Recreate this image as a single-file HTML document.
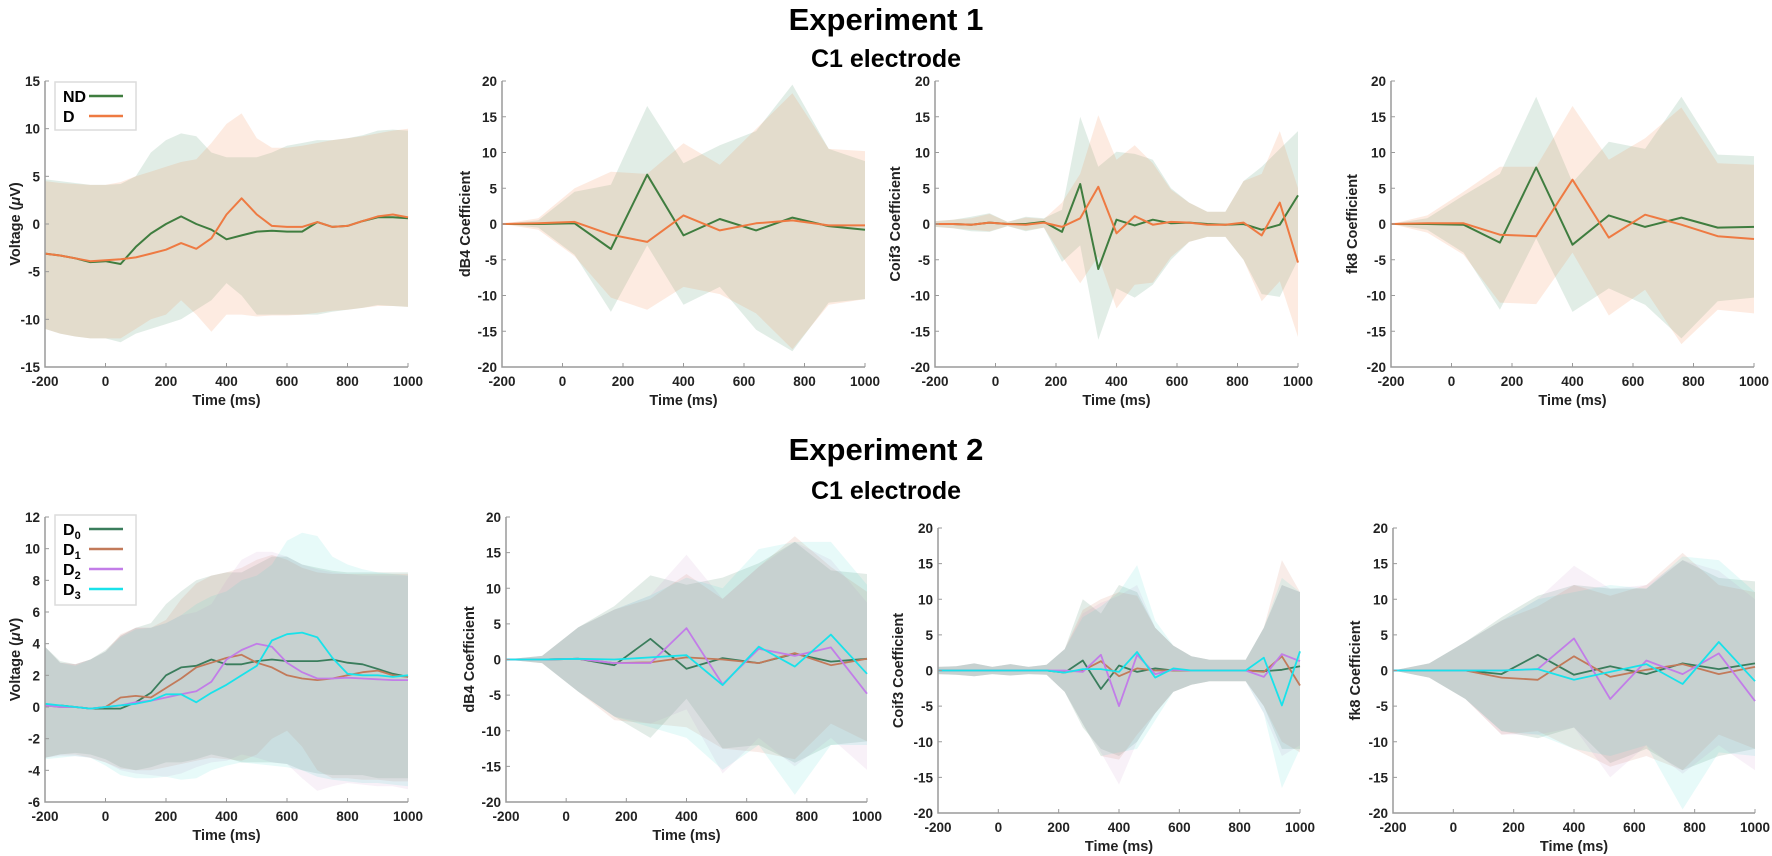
<!DOCTYPE html>
<html><head><meta charset="utf-8">
<style>
html,body{margin:0;padding:0;background:#fff;}
svg{display:block;}
text{font-family:"Liberation Sans",Arial,sans-serif;}
.title{font-family:"Liberation Sans Narrow","Liberation Sans",sans-serif;font-weight:bold;fill:#000;}
</style></head>
<body>
<svg id="fig" width="1772" height="856" viewBox="0 0 1772 856" xmlns="http://www.w3.org/2000/svg">
<text class="title" x="886" y="30" font-size="31" text-anchor="middle">Experiment 1</text>
<text class="title" x="886" y="67" font-size="25" text-anchor="middle">C1 electrode</text>
<text class="title" x="886" y="460" font-size="31" text-anchor="middle">Experiment 2</text>
<text class="title" x="886" y="499" font-size="25" text-anchor="middle">C1 electrode</text>
</svg>
<script>
// ---- time grids ----
const tErp = [-200,-150,-100,-50,0,50,100,150,200,250,300,350,400,450,500,550,600,650,700,750,800,850,900,950,1000];
const tCoef = [-200,-80,40,160,280,400,520,640,760,880,1000];
const tCoif = [-200,-140,-80,-20,40,100,160,220,280,340,400,460,520,580,640,700,760,820,880,940,1000];
const xTicks = [-200,0,200,400,600,800,1000];

// ---- Experiment 1: ERP ----
const e1ErpNDmean = [-3.1,-3.3,-3.6,-4.0,-3.9,-4.2,-2.4,-1.0,0.0,0.8,0.0,-0.6,-1.6,-1.2,-0.8,-0.7,-0.8,-0.8,0.2,-0.3,-0.2,0.3,0.7,0.7,0.6];
const e1ErpDmean  = [-3.1,-3.3,-3.6,-3.9,-3.8,-3.7,-3.5,-3.1,-2.7,-2.0,-2.6,-1.5,1.0,2.7,1.0,-0.2,-0.3,-0.3,0.2,-0.3,-0.2,0.3,0.8,1.0,0.7];
const e1ErpNDup = [4.7,4.5,4.3,4.1,4.1,4.2,5.0,7.5,8.8,9.5,9.2,7.5,7.0,7.0,7.0,7.5,8.2,8.5,8.8,8.8,9.0,9.3,9.8,9.9,9.8];
const e1ErpNDlo = [-11,-11.5,-11.8,-12,-12,-12.4,-11.5,-11,-10.5,-10,-9,-8,-6.2,-7.5,-9.5,-9.5,-9.5,-9.5,-9.5,-9.2,-9,-8.8,-8.5,-8.6,-8.7];
const e1ErpDup = [4.5,4.3,4.2,4.1,4.1,4.4,5.0,5.5,6.0,6.5,6.8,8.5,10.5,11.6,9.0,8.0,8.0,8.2,8.5,8.8,9.0,9.2,9.5,9.8,10];
const e1ErpDlo = [-11,-11.5,-11.8,-12,-12,-12,-11,-10,-9.5,-8,-9.5,-11.3,-9.5,-9.5,-9.7,-9.6,-9.6,-9.5,-9.3,-9.1,-9,-8.8,-8.6,-8.6,-8.7];
// ---- Experiment 1: dB4 ----
const e1DbND = [0,0,0.1,-3.5,6.9,-1.6,0.7,-0.9,0.9,-0.3,-0.8];
const e1DbD  = [0,0.1,0.3,-1.5,-2.5,1.2,-0.9,0.1,0.5,-0.2,-0.2];
const e1DbNDup = [0,0.5,4.5,5.5,16.5,8.5,11.0,13.0,19.5,10.5,8.8];
const e1DbNDlo = [0,-0.5,-4.3,-12.3,-3.0,-11.3,-8.8,-14.8,-17.8,-11.0,-10.5];
const e1DbDup = [0,0.8,5.0,7.3,7.0,11.3,8.3,13.3,18.3,10.5,10.2];
const e1DbDlo = [0,-0.8,-4.5,-10.3,-12.0,-8.8,-9.8,-12.5,-17.5,-11.3,-10.5];
// ---- Experiment 1: Coif3 ----
const e1CoND = [0,0,-0.1,0.2,0,0,0.3,-1.1,5.6,-6.3,0.6,-0.2,0.6,0.1,0.2,0,-0.1,0,-0.8,-0.1,4.0];
const e1CoD  = [0,0,-0.1,0.2,0,-0.1,0.2,-0.4,0.8,5.2,-1.3,1.1,-0.1,0.3,0.2,-0.1,-0.1,0.2,-1.6,3.0,-5.4];
const e1CoNDup = [0.4,0.6,1.0,1.5,0.3,1.0,0.8,2.0,15.0,8.0,10.1,9.8,9.0,5.0,3.0,1.7,1.7,6.0,8.0,10.5,13.0];
const e1CoNDlo = [-0.4,-0.6,-1.0,-1.1,-0.3,-1.0,-0.5,-5.3,-3.0,-16.2,-9.0,-10.3,-8.5,-5.0,-2.5,-1.8,-1.8,-5.0,-9.8,-10.2,-5.0];
const e1CoDup = [0.4,0.6,0.8,1.4,0.3,0.9,0.7,3.0,7.0,15.2,9.0,11.0,8.5,4.8,3.0,1.7,1.7,6.0,7.0,13.0,5.0];
const e1CoDlo = [-0.4,-0.6,-0.8,-1.0,-0.3,-0.9,-0.5,-4.5,-8.3,-4.5,-11.8,-8.5,-8.2,-4.6,-2.5,-1.8,-1.8,-5.0,-10.8,-8.0,-15.8];
// ---- Experiment 1: fk8 ----
const e1FkND = [0,0,-0.1,-2.6,7.9,-2.9,1.2,-0.4,0.9,-0.5,-0.4];
const e1FkD  = [0,0.1,0.1,-1.5,-1.7,6.2,-1.9,1.3,-0.1,-1.7,-2.1];
const e1FkNDup = [0,0.8,4.0,7.0,17.8,5.8,11.5,10.5,17.8,9.7,9.5];
const e1FkNDlo = [0,-0.8,-4.0,-12.0,-2.0,-12.3,-9.0,-11.3,-16.0,-10.8,-10.3];
const e1FkDup = [0,1.2,4.5,8.0,8.0,16.5,9.0,12.0,16.3,8.5,8.3];
const e1FkDlo = [0,-1.2,-4.3,-11.0,-11.2,-4.0,-12.8,-9.2,-16.8,-12.0,-12.5];

// ---- Experiment 2: ERP ----
const e2ErpD0 = [0.1,0.1,0,-0.1,-0.1,-0.1,0.3,0.9,2.0,2.5,2.6,3.0,2.7,2.7,2.9,3.0,2.9,2.9,2.9,3.0,2.8,2.7,2.4,2.1,1.9];
const e2ErpD1 = [0.1,0,0,-0.1,0,0.6,0.7,0.6,1.2,1.8,2.5,2.8,3.1,3.3,2.8,2.5,2.0,1.8,1.7,1.8,2.0,2.2,2.3,2.0,1.9];
const e2ErpD2 = [0.1,0,0,-0.1,0,0.1,0.3,0.4,0.6,0.8,1.0,1.6,3.0,3.6,4.0,3.8,2.8,2.2,1.8,1.8,1.85,1.8,1.75,1.7,1.7];
const e2ErpD3 = [0.2,0.1,0,-0.1,0,0.1,0.2,0.4,0.8,0.8,0.3,0.9,1.4,2.0,2.6,4.2,4.6,4.7,4.4,3.1,2.1,2.0,2.0,1.9,2.0];
const e2ErpD0up = [3.8,2.9,2.7,3.0,3.6,4.5,5.0,5.3,6.5,7.3,8.0,8.3,8.5,8.5,9.0,9.5,9.5,9.0,8.8,8.6,8.5,8.5,8.5,8.5,8.5];
const e2ErpD1up = [3.8,2.8,2.7,3.0,3.5,4.6,5.0,5.0,5.5,6.8,7.8,8.3,8.5,8.8,9.3,9.6,9.3,8.8,8.5,8.4,8.4,8.4,8.4,8.4,8.4];
const e2ErpD2up = [3.8,2.8,2.7,3.0,3.5,4.5,5.0,5.0,5.3,5.8,6.0,6.5,8.0,9.3,9.8,9.8,9.5,9.0,8.7,8.5,8.4,8.3,8.3,8.3,8.3];
const e2ErpD3up = [3.8,2.8,2.6,3.0,3.5,4.4,4.9,5.0,5.3,5.8,6.5,7.0,7.3,8.0,8.3,9.0,10.5,11.0,10.8,9.5,9.0,8.7,8.5,8.4,8.3];
const e2ErpD0lo = [-3.2,-3.0,-2.9,-3.0,-3.3,-3.8,-4.0,-3.8,-3.5,-3.5,-3.3,-3.0,-3.2,-3.5,-3.5,-3.5,-3.6,-4.0,-4.2,-4.3,-4.3,-4.3,-4.5,-4.5,-4.5];
const e2ErpD1lo = [-3.2,-3.0,-3.0,-3.2,-3.5,-3.9,-4.0,-4.0,-3.8,-3.6,-3.4,-3.2,-3.3,-3.4,-3.0,-2.0,-1.5,-2.5,-4.0,-4.5,-4.5,-4.6,-4.6,-4.7,-4.7];
const e2ErpD2lo = [-3.2,-3.1,-3.1,-3.2,-3.5,-4.0,-4.2,-4.3,-4.4,-4.2,-3.8,-3.5,-3.4,-3.0,-3.2,-3.5,-3.6,-4.5,-5.3,-5.0,-4.8,-4.9,-5.0,-5.0,-5.2];
const e2ErpD3lo = [-3.3,-3.2,-3.1,-3.2,-3.7,-4.3,-4.5,-4.5,-4.4,-4.6,-4.5,-4.0,-3.7,-3.5,-3.6,-3.7,-3.8,-4.0,-4.4,-4.6,-4.7,-4.8,-4.8,-4.9,-5.0];
// ---- Experiment 2: dB4 ----
const e2DbD0 = [0,0,0.1,-0.8,2.9,-1.3,0.2,-0.5,0.8,-0.3,0.1];
const e2DbD1 = [0,0,0.1,-0.5,-0.4,0.3,0.0,-0.5,0.9,-0.8,0.1];
const e2DbD2 = [0,0,0.1,-0.5,-0.5,4.4,-3.5,1.5,0.5,1.7,-4.8];
const e2DbD3 = [0,0,0.1,0,0.3,0.6,-3.6,1.8,-1.0,3.5,-2.0];
const e2DbD0up = [0,0.5,4.5,7.5,11.8,10.5,11.5,13.5,16.5,12.5,12.0];
const e2DbD0lo = [0,-0.5,-4.5,-8.0,-11.0,-5.5,-12.5,-12.0,-14.5,-12.0,-11.5];
const e2DbD1up = [0,0.5,4.5,7.0,8.5,12.0,8.5,13.0,17.3,13.0,9.5];
const e2DbD1lo = [0,-0.5,-4.5,-8.5,-9.0,-9.5,-12.5,-13.0,-14.0,-9.0,-11.5];
const e2DbD2up = [0,0.5,4.5,7.0,9.0,14.7,8.5,13.0,16.5,14.0,8.0];
const e2DbD2lo = [0,-0.5,-4.5,-8.0,-9.0,-7.0,-16.0,-11.0,-15.0,-11.0,-15.5];
const e2DbD3up = [0,0.5,4.5,7.0,9.0,11.5,10.0,15.5,16.5,16.5,10.5];
const e2DbD3lo = [0,-0.5,-4.5,-8.0,-9.5,-11.0,-15.5,-12.0,-19.0,-12.0,-12.0];
// ---- Experiment 2: Coif3 ----
const e2CoD0 = [0,0,0,0,0,0,0,-0.3,1.4,-2.6,0.7,-0.2,0.3,0,0,0,0,0,-0.1,0.1,0.6];
const e2CoD1 = [0,0,0,0,0,0,0,-0.2,0,1.3,-0.8,0.3,0,0,0,0,0,0,-0.2,2.0,-2.1];
const e2CoD2 = [0,0,0,0,0,0,0,0,-0.2,2.2,-5.0,2.2,-0.5,0.1,0,0,0,0,-0.9,2.3,1.3];
const e2CoD3 = [0,0,0,0,0,0,0,-0.3,0.2,0.2,-0.2,2.6,-1.0,0.3,0,0,0,0,1.8,-4.9,2.7];
const e2CoD0up = [0.5,0.6,1.0,0.5,0.9,0.5,0.8,3.0,10.0,8.0,12.0,11.0,6.0,3.5,2.0,1.5,1.5,1.5,6.0,12.0,11.0];
const e2CoD0lo = [-0.5,-0.6,-0.8,-0.5,-0.7,-0.5,-0.6,-3.0,-8.0,-11.0,-12.0,-10.0,-6.0,-3.0,-2.0,-1.5,-1.5,-1.5,-5.0,-11.0,-11.0];
const e2CoD1up = [0.5,0.6,1.0,0.5,0.9,0.5,0.8,3.0,8.5,10.0,11.0,10.5,6.0,3.5,2.0,1.5,1.5,1.5,6.0,15.5,11.0];
const e2CoD1lo = [-0.5,-0.6,-0.8,-0.5,-0.7,-0.5,-0.6,-3.0,-7.5,-12.0,-12.5,-9.0,-6.0,-3.0,-2.0,-1.5,-1.5,-1.5,-5.0,-10.0,-11.5];
const e2CoD2up = [0.5,0.6,1.0,0.5,0.9,0.5,0.8,3.0,8.0,9.5,10.5,12.0,6.0,3.5,2.0,1.5,1.5,1.5,6.0,12.0,11.0];
const e2CoD2lo = [-0.5,-0.6,-0.8,-0.5,-0.7,-0.5,-0.6,-3.0,-7.5,-11.5,-16.0,-10.0,-6.0,-3.0,-2.0,-1.5,-1.5,-1.5,-6.0,-12.0,-10.5];
const e2CoD3up = [0.5,0.6,1.0,0.5,0.9,0.5,0.8,3.0,7.5,9.0,11.0,14.8,7.0,3.5,2.0,1.5,1.5,1.5,6.0,13.0,11.0];
const e2CoD3lo = [-0.5,-0.6,-0.8,-0.5,-0.7,-0.5,-0.6,-3.0,-7.5,-12.0,-11.5,-11.0,-7.0,-3.0,-2.0,-1.5,-1.5,-1.5,-6.0,-16.5,-11.0];
// ---- Experiment 2: fk8 ----
const e2FkD0 = [0,0,0,-0.5,2.2,-0.6,0.6,-0.5,1.0,0.2,1.0];
const e2FkD1 = [0,0,0,-1.0,-1.3,2.0,-0.9,0.1,0.9,-0.5,0.5];
const e2FkD2 = [0,0,0,0,0.2,4.5,-4.0,1.4,-0.5,2.4,-4.3];
const e2FkD3 = [0,0,0,0,0.2,-1.3,-0.2,0.9,-1.9,4.0,-1.5];
const e2FkD0up = [0,1.0,4.0,7.5,10.5,12.0,11.5,11.5,15.5,13.0,12.5];
const e2FkD0lo = [0,-1.0,-4.0,-8.5,-9.5,-8.0,-13.0,-11.0,-14.0,-12.0,-11.0];
const e2FkD1up = [0,1.0,4.0,7.0,9.0,12.0,10.5,12.0,16.5,12.0,11.0];
const e2FkD1lo = [0,-1.0,-4.0,-9.0,-8.5,-11.0,-13.5,-12.0,-14.0,-9.0,-11.0];
const e2FkD2up = [0,1.0,4.0,7.0,10.0,14.7,11.5,12.0,15.5,14.0,10.0];
const e2FkD2lo = [0,-1.0,-4.0,-9.0,-9.0,-8.0,-15.0,-10.5,-14.5,-10.5,-14.0];
const e2FkD3up = [0,1.0,4.0,7.0,10.0,11.0,12.0,11.5,16.0,15.5,11.0];
const e2FkD3lo = [0,-1.0,-4.0,-8.5,-9.0,-11.0,-12.0,-10.5,-19.5,-11.5,-12.0];

const NS = "http://www.w3.org/2000/svg";
const svg = document.getElementById('fig');
const C1 = {ND:'#3f7d3f', D:'#ee7a42'};
const F1 = {ND:'rgba(70,140,100,0.16)', D:'rgba(245,130,70,0.16)'};
const C2 = ['#3a7d5c','#c27a5a','#c27de8','#19e2ea'];
const F2 = ['rgba(60,125,95,0.15)','rgba(205,120,90,0.14)','rgba(200,140,200,0.12)','rgba(60,215,205,0.12)'];

function el(tag, attrs, parent){
  const e = document.createElementNS(NS, tag);
  for (const k in attrs) e.setAttribute(k, attrs[k]);
  (parent||svg).appendChild(e);
  return e;
}

function panel(name, box, yMin, yMax, yTicks, yLabel, times, bands, lines, lw){
  const g = el('g', {});
  
  
  const xs = t => box.x0 + (t + 200) / 1200 * (box.x1 - box.x0);
  const ys = v => box.y1 - (v - yMin) / (yMax - yMin) * (box.y1 - box.y0);
  bands.forEach((b, i) => {
    let d = '';
    b.up.forEach((v, k) => { d += (k ? 'L' : 'M') + xs(times[k]).toFixed(1) + ' ' + ys(v).toFixed(1); });
    for (let k = b.lo.length - 1; k >= 0; k--) d += 'L' + xs(times[k]).toFixed(1) + ' ' + ys(b.lo[k]).toFixed(1);
    const p = el('path', {d: d + 'Z', fill: b.fill, stroke: 'none'}, g);
    
    
  });
  lines.forEach(l => {
    const pts = l.v.map((v, k) => xs(times[k]).toFixed(1) + ',' + ys(v).toFixed(1)).join(' ');
    const p = el('polyline', {points: pts, fill: 'none', stroke: l.color, 'stroke-width': lw, 'stroke-linejoin': 'round'}, g);
    
    
  });
  const ax = el('path', {d: `M${box.x0} ${box.y0}V${box.y1}H${box.x1}`, fill: 'none', stroke: '#9a9a9a', 'stroke-width': 1.5}, g);
  
  
  yTicks.forEach(v => {
    const y = ys(v);
    el('line', {x1: box.x0, x2: box.x0 + 4, y1: y, y2: y, stroke: '#9a9a9a', 'stroke-width': 1}, g);
    const t = el('text', {x: box.x0 - 5, y: y + 5, 'font-size': 13.5, 'font-weight': 'bold', 'text-anchor': 'end', fill: '#222'}, g);
    t.textContent = v;
    
    
  });
  xTicks.forEach(v => {
    const x = xs(v);
    el('line', {x1: x, x2: x, y1: box.y1, y2: box.y1 - 4, stroke: '#9a9a9a', 'stroke-width': 1}, g);
    const t = el('text', {x: x, y: box.y1 + 19, 'font-size': 13.5, 'font-weight': 'bold', 'text-anchor': 'middle', fill: '#222'}, g);
    t.textContent = v;
    
    
  });
  const xl = el('text', {x: (box.x0 + box.x1) / 2, y: box.y1 + 38, 'font-size': 14.5, 'font-weight': 'bold', 'text-anchor': 'middle', fill: '#222'}, g);
  xl.textContent = 'Time (ms)';
  
  
  const lx = box.ylx, ly = (box.y0 + box.y1) / 2;
  const yl = el('text', {x: lx, y: ly, 'font-size': 14.5, 'font-weight': 'bold', 'text-anchor': 'middle', fill: '#222', transform: `rotate(-90 ${lx} ${ly})`}, g);
  yl.innerHTML = yLabel;
  
  
}

const vt1 = [-15,-10,-5,0,5,10,15];
const vt2 = [-6,-4,-2,0,2,4,6,8,10,12];
const ct = [-20,-15,-10,-5,0,5,10,15,20];
const volt = 'Voltage (<tspan font-style="italic">μ</tspan>V)';

const T = {y0: 81, y1: 367};
panel('exp1-voltage-chart', {x0:45,x1:408,...T,ylx:20}, -15, 15, vt1, volt, tErp,
  [{id:'nd',fill:F1.ND,up:e1ErpNDup,lo:e1ErpNDlo},{id:'d',fill:F1.D,up:e1ErpDup,lo:e1ErpDlo}],
  [{id:'nd',color:C1.ND,v:e1ErpNDmean},{id:'d',color:C1.D,v:e1ErpDmean}], 2);
panel('exp1-db4-chart', {x0:502,x1:865,...T,ylx:470}, -20, 20, ct, 'dB4 Coefficient', tCoef,
  [{id:'nd',fill:F1.ND,up:e1DbNDup,lo:e1DbNDlo},{id:'d',fill:F1.D,up:e1DbDup,lo:e1DbDlo}],
  [{id:'nd',color:C1.ND,v:e1DbND},{id:'d',color:C1.D,v:e1DbD}], 2);
panel('exp1-coif3-chart', {x0:935,x1:1298,...T,ylx:900}, -20, 20, ct, 'Coif3 Coefficient', tCoif,
  [{id:'nd',fill:F1.ND,up:e1CoNDup,lo:e1CoNDlo},{id:'d',fill:F1.D,up:e1CoDup,lo:e1CoDlo}],
  [{id:'nd',color:C1.ND,v:e1CoND},{id:'d',color:C1.D,v:e1CoD}], 2);
panel('exp1-fk8-chart', {x0:1391,x1:1754,...T,ylx:1357}, -20, 20, ct, 'fk8 Coefficient', tCoef,
  [{id:'nd',fill:F1.ND,up:e1FkNDup,lo:e1FkNDlo},{id:'d',fill:F1.D,up:e1FkDup,lo:e1FkDlo}],
  [{id:'nd',color:C1.ND,v:e1FkND},{id:'d',color:C1.D,v:e1FkD}], 2);

const B1 = {y0: 517, y1: 802}, B2 = {y0: 528, y1: 813};
function bands4(prefix, ups, los){ return ups.map((u,i)=>({id:'d'+i,fill:F2[i],up:u,lo:los[i]})); }
function lines4(vs){ return vs.map((v,i)=>({id:'d'+i,color:C2[i],v:v})); }
panel('exp2-voltage-chart', {x0:45,x1:408,...B1,ylx:20}, -6, 12, vt2, volt, tErp,
  bands4('erp',[e2ErpD0up,e2ErpD1up,e2ErpD2up,e2ErpD3up],[e2ErpD0lo,e2ErpD1lo,e2ErpD2lo,e2ErpD3lo]),
  lines4([e2ErpD0,e2ErpD1,e2ErpD2,e2ErpD3]), 1.8);
panel('exp2-db4-chart', {x0:506,x1:867,...B1,ylx:474}, -20, 20, ct, 'dB4 Coefficient', tCoef,
  bands4('db',[e2DbD0up,e2DbD1up,e2DbD2up,e2DbD3up],[e2DbD0lo,e2DbD1lo,e2DbD2lo,e2DbD3lo]),
  lines4([e2DbD0,e2DbD1,e2DbD2,e2DbD3]), 1.8);
panel('exp2-coif3-chart', {x0:938,x1:1300,...B2,ylx:903}, -20, 20, ct, 'Coif3 Coefficient', tCoif,
  bands4('co',[e2CoD0up,e2CoD1up,e2CoD2up,e2CoD3up],[e2CoD0lo,e2CoD1lo,e2CoD2lo,e2CoD3lo]),
  lines4([e2CoD0,e2CoD1,e2CoD2,e2CoD3]), 1.8);
panel('exp2-fk8-chart', {x0:1393,x1:1755,...B2,ylx:1360}, -20, 20, ct, 'fk8 Coefficient', tCoef,
  bands4('fk',[e2FkD0up,e2FkD1up,e2FkD2up,e2FkD3up],[e2FkD0lo,e2FkD1lo,e2FkD2lo,e2FkD3lo]),
  lines4([e2FkD0,e2FkD1,e2FkD2,e2FkD3]), 1.8);

function legend(name, x, y, w, h, entries, dy, y0){
  const g = el('g', {});
  
  
  el('rect', {x:x, y:y, width:w, height:h, fill:'#fff', stroke:'#dcdcdc', 'stroke-width':1.5}, g);
  entries.forEach((e, i) => {
    const cy = y0 + i * dy;
    const t = el('text', {x: x + 8, y: cy + 6, 'font-size': 16, 'font-weight': 'bold', fill: '#000'}, g);
    t.innerHTML = e.label;
    
    
    const l = el('line', {x1: x + 34, x2: x + 68, y1: cy, y2: cy, stroke: e.color, 'stroke-width': 2.5}, g);
    
    
  });
}
legend('exp1-legend', 55, 82, 81, 48, [{label:'ND',color:C1.ND},{label:'D',color:C1.D}], 20, 96);
legend('exp2-legend', 55, 515, 81, 90, [
  {label:'D<tspan font-size="11" dy="4">0</tspan>',color:C2[0]},
  {label:'D<tspan font-size="11" dy="4">1</tspan>',color:C2[1]},
  {label:'D<tspan font-size="11" dy="4">2</tspan>',color:C2[2]},
  {label:'D<tspan font-size="11" dy="4">3</tspan>',color:C2[3]}], 20, 529);
</script>
</body></html>
